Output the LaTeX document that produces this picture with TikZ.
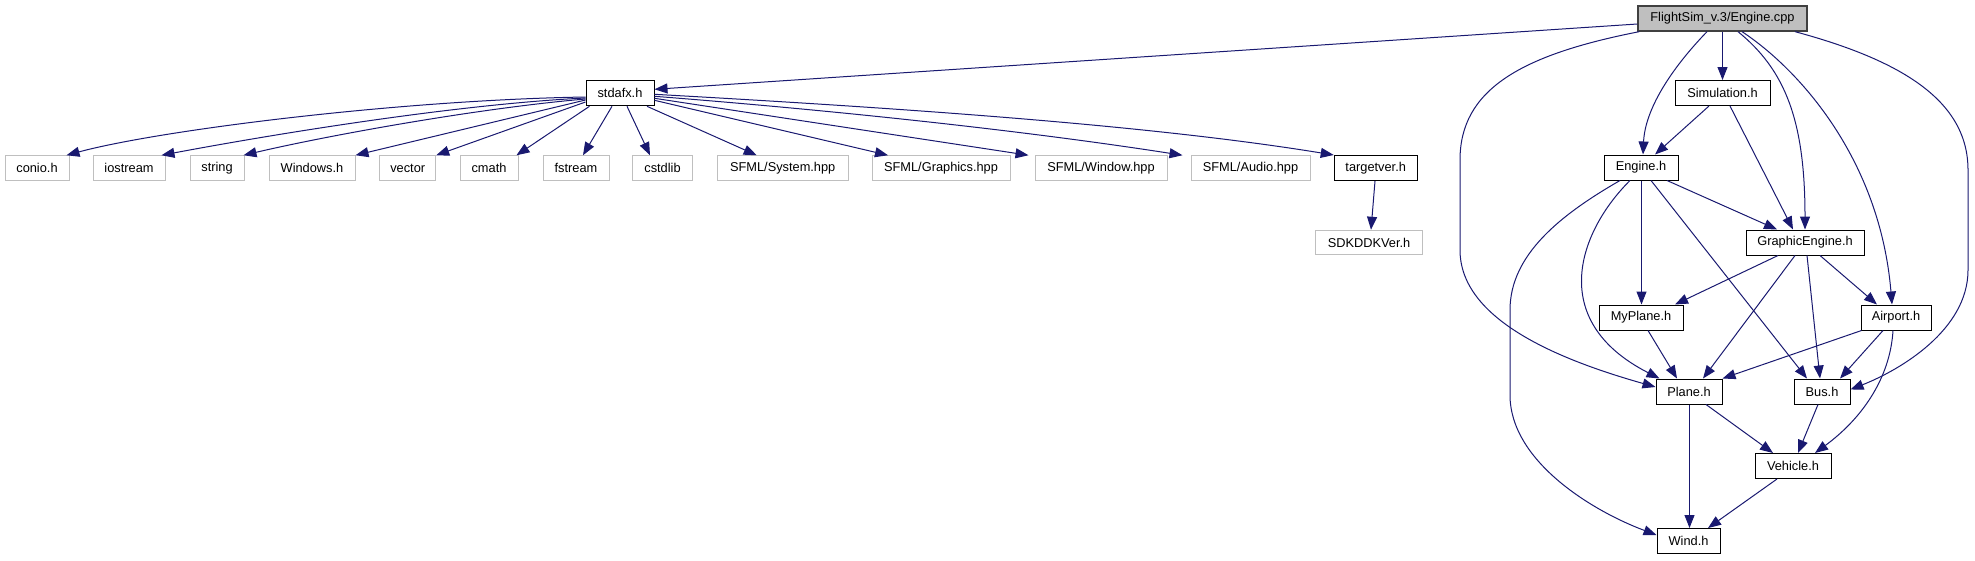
\documentclass[tikz,border=0pt]{standalone}
\usepackage{fontspec}
\setmainfont{Liberation Sans}
\usetikzlibrary{arrows.meta}
\definecolor{edgec}{HTML}{191970}
\definecolor{extc}{HTML}{BFBFBF}
\definecolor{rootfill}{HTML}{BFBFBF}
\definecolor{rootdraw}{HTML}{404040}
\tikzset{
  base/.style={rectangle, inner sep=0pt, minimum height=25pt, font=\fontsize{12.8}{14}\selectfont, fill=white},
  doc/.style={base, draw=black, line width=1pt},
  ext/.style={base, draw=extc, line width=1pt, minimum height=24.5pt},
  rootbox/.style={base, draw=rootdraw, fill=rootfill, line width=1.3pt},
  dep/.style={draw=edgec, line width=1pt, -{Triangle[length=13pt,width=10pt]}},
}
\begin{document}
\begin{tikzpicture}[x=1pt,y=-1pt]
\useasboundingbox (0,0) rectangle (1975,560);
% nodes
\node[rootbox, minimum width=169pt] (root) at (1722.5,18.5) {FlightSim\_v.3/Engine.cpp};
\node[doc, minimum width=68pt] (stdafx) at (620,93.3) {stdafx.h};
\node[ext, minimum width=64pt] (conio) at (37,168) {conio.h};
\node[ext, minimum width=72pt] (iostream) at (129,168) {iostream};
\node[ext, minimum width=54pt] (string) at (217,168) {string};
\node[ext, minimum width=86pt] (windows) at (312,168) {Windows.h};
\node[ext, minimum width=56pt] (vector) at (407.7,168) {vector};
\node[ext, minimum width=58pt] (cmath) at (489,168) {cmath};
\node[ext, minimum width=66pt] (fstream) at (576,168) {fstream};
\node[ext, minimum width=60pt] (cstdlib) at (662.5,168) {cstdlib};
\node[ext, minimum width=131pt] (system) at (782.7,168) {SFML/System.hpp};
\node[ext, minimum width=138pt] (graphics) at (941,168) {SFML/Graphics.hpp};
\node[ext, minimum width=132pt] (window) at (1101,168) {SFML/Window.hpp};
\node[ext, minimum width=119pt] (audio) at (1250.5,168) {SFML/Audio.hpp};
\node[doc, minimum width=83pt] (targetver) at (1375.7,168) {targetver.h};
\node[ext, minimum width=107pt] (sdk) at (1369,242.5) {SDKDDKVer.h};
\node[doc, minimum width=95pt] (sim) at (1722.5,93) {Simulation.h};
\node[doc, minimum width=74pt] (engine) at (1641,167.5) {Engine.h};
\node[doc, minimum width=118pt] (gfx) at (1805,242.5) {GraphicEngine.h};
\node[doc, minimum width=84pt] (myplane) at (1641,317.5) {MyPlane.h};
\node[doc, minimum width=70pt] (airport) at (1896,317.5) {Airport.h};
\node[doc, minimum width=66pt] (plane) at (1689,391.5) {Plane.h};
\node[doc, minimum width=56pt] (bus) at (1822,391.5) {Bus.h};
\node[doc, minimum width=76pt] (vehicle) at (1793,466) {Vehicle.h};
\node[doc, minimum width=63pt] (wind) at (1688.5,541) {Wind.h};
% edges from root
\draw[dep] ([yshift=-5.5pt]root.west) -- ([yshift=4pt]stdafx.east);
\draw[dep] ([xshift=2pt]root.south west) .. controls (1520,55) and (1460,90) .. (1460,160) -- (1460,250) .. controls (1460,320) and (1560,360) .. ([yshift=4.5pt]plane.west);
\draw[dep] ([xshift=-15.5pt]root.south) .. controls (1670,70) and (1645,110) .. ([xshift=2pt]engine.north);
\draw[dep] (root.south) -- (sim.north);
\draw[dep] ([xshift=15.5pt]root.south) .. controls (1785,70) and (1805,120) .. (gfx.north);
\draw[dep] ([xshift=19.5pt]root.south) .. controls (1800,70) and (1880,160) .. ([xshift=-4pt]airport.north);
\draw[dep] ([xshift=72.5pt]root.south) .. controls (1900,60) and (1968,100) .. (1968,170) -- (1968,270) .. controls (1968,330) and (1900,370) .. ([yshift=2pt]bus.east);
% Simulation
\draw[dep] ([xshift=-13.5pt]sim.south) -- ([xshift=14pt]engine.north);
\draw[dep] ([xshift=7.5pt]sim.south) -- ([xshift=-12pt]gfx.north);
% Engine.h
\draw[dep] ([xshift=26pt]engine.south) -- ([xshift=-28pt]gfx.north);
\draw[dep] ([xshift=0.5pt]engine.south) -- ([xshift=0.5pt]myplane.north);
\draw[dep] ([xshift=10pt]engine.south) -- ([xshift=-15pt]bus.north);
\draw[dep] ([xshift=-11pt]engine.south) .. controls (1580,230) and (1545,320) .. ([xshift=4pt]plane.north west);
\draw[dep] ([xshift=-21pt]engine.south) .. controls (1560,215) and (1510,255) .. (1510,310) -- (1510,395) .. controls (1510,460) and (1590,510) .. ([yshift=6pt]wind.west);
% GraphicEngine.h
\draw[dep] ([xshift=-27pt]gfx.south) -- ([xshift=34pt]myplane.north);
\draw[dep] ([xshift=-10pt]gfx.south) -- ([xshift=14pt]plane.north);
\draw[dep] ([xshift=2pt]gfx.south) -- ([xshift=-2pt]bus.north);
\draw[dep] ([xshift=15pt]gfx.south) -- ([xshift=-19pt]airport.north);
% Airport.h
\draw[dep] ([xshift=1pt]airport.south west) -- (plane.north east);
\draw[dep] ([xshift=-13pt]airport.south) -- ([xshift=18pt]bus.north);
\draw[dep] ([xshift=-3pt]airport.south) .. controls (1890,380) and (1860,420) .. ([xshift=22pt]vehicle.north);
% others
\draw[dep] ([xshift=7pt]myplane.south) -- ([xshift=-12pt]plane.north);
\draw[dep] ([xshift=0.5pt]plane.south) -- ([xshift=1pt]wind.north);
\draw[dep] ([xshift=17pt]plane.south) -- ([xshift=-20pt]vehicle.north);
\draw[dep] ([xshift=-4pt]bus.south) -- ([xshift=5pt]vehicle.north);
\draw[dep] ([xshift=-16pt]vehicle.south) -- ([xshift=19.5pt]wind.north);
% stdafx
\draw[dep] ([yshift=-3.7pt]stdafx.west) .. controls (400,100) and (160,130) .. ([xshift=-3pt]conio.north east);
\draw[dep] ([yshift=-4.7pt]stdafx.west) .. controls (460,104) and (280,133) .. ([xshift=-4pt]iostream.north east);
\draw[dep] ([yshift=-5.7pt]stdafx.west) .. controls (480,108) and (330,135) .. ([xshift=-1pt]string.north east);
\draw[dep] ([yshift=-6.7pt]stdafx.west) -- (windows.north east);
\draw[dep] ([yshift=-8.7pt]stdafx.west) -- (vector.north east);
\draw[dep] ([xshift=4pt]stdafx.south west) -- ([xshift=-2pt]cmath.north east);
\draw[dep] ([xshift=-8pt]stdafx.south) -- ([xshift=7pt]fstream.north);
\draw[dep] ([xshift=7pt]stdafx.south) -- ([xshift=-12.5pt]cstdlib.north);
\draw[dep] ([xshift=27pt]stdafx.south) -- ([xshift=-26pt]system.north);
\draw[dep] ([yshift=-7pt]stdafx.east) -- ([xshift=-53pt]graphics.north);
\draw[dep] ([yshift=-5pt]stdafx.east) -- ([xshift=-6pt]window.north west);
\draw[dep] ([yshift=-3pt]stdafx.east) .. controls (830,110) and (1020,130) .. ([xshift=-8pt]audio.north west);
\draw[dep] ([yshift=-1pt]stdafx.east) .. controls (900,108) and (1150,125) .. (targetver.north west);
\draw[dep] ([xshift=-0.7pt]targetver.south) -- ([xshift=2pt]sdk.north);
\end{tikzpicture}
\end{document}
